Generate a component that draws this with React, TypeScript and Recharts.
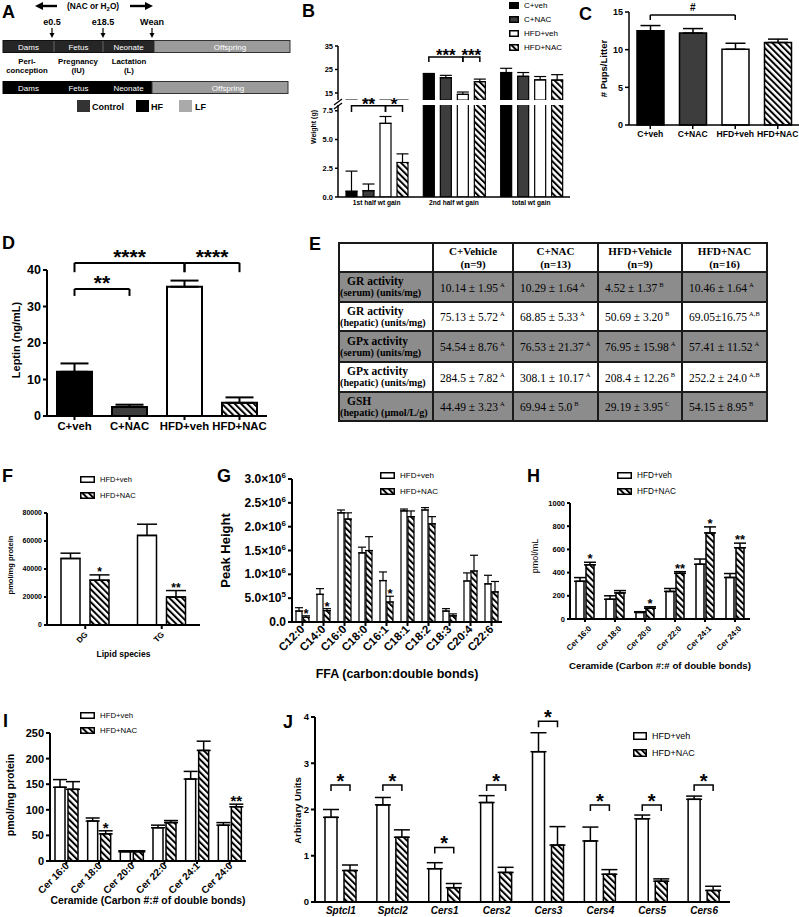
import React from 'react';
import { BarChart, Bar, XAxis, YAxis, ErrorBar, Cell, ReferenceLine } from 'recharts';

const SANS = '"Liberation Sans", Arial, Helvetica, sans-serif';
const SERIF = '"Liberation Serif", "Times New Roman", serif';

// ---------- data ----------
const GROUPS = ['C+veh', 'C+NAC', 'HFD+veh', 'HFD+NAC'];
const PAIR = ['HFD+veh', 'HFD+NAC'];

// B: dam weight gain (g)
const B_CATS = ['1st half wt gain', '2nd half wt gain', 'total wt gain'];
const B_CVEH = [0.5, 23.0, 23.7];
const B_CVEH_ERR = [1.75, 0.3, 1.8];
const B_CNAC = [0.55, 21.5, 22.1];
const B_CNAC_ERR = [0.58, 1.0, 1.6];
const B_HVEH = [6.4, 14.4, 20.6];
const B_HVEH_ERR = [0.6, 1.0, 1.4];
const B_HNAC = [3.0, 19.8, 20.5];
const B_HNAC_ERR = [0.75, 1.1, 2.3];

// C: pups per litter
const C_PUPS = [12.5, 12.2, 10.05, 10.95];
const C_ERR = [0.7, 0.6, 0.8, 0.45];

// D: leptin (ng/mL)
const D_LEPTIN = [12.1, 2.5, 35.4, 3.6];
const D_ERR = [2.3, 0.6, 1.7, 1.5];

// E: antioxidant table
const E_HEAD = ['C+Vehicle', 'C+NAC', 'HFD+Vehicle', 'HFD+NAC'];
const E_N = ['(n=9)', '(n=13)', '(n=9)', '(n=16)'];
const E_ROW = ['GR activity', 'GR activity', 'GPx activity', 'GPx activity', 'GSH'];
const E_UNIT = ['(serum) (units/mg)', '(hepatic) (units/mg)', '(serum) (units/mg)', '(hepatic) (units/mg)', '(hepatic) (\u00b5mol/L/g)'];
const E_MEAN = [
  ['10.14 \u00b1 1.95', '10.29 \u00b1 1.64', '4.52 \u00b1 1.37', '10.46 \u00b1 1.64'],
  ['75.13 \u00b1 5.72', '68.85 \u00b1 5.33', '50.69 \u00b1 3.20', '69.05\u00b116.75'],
  ['54.54 \u00b1 8.76', '76.53 \u00b1 21.37', '76.95 \u00b1 15.98', '57.41 \u00b1 11.52'],
  ['284.5 \u00b1 7.82', '308.1 \u00b1 10.17', '208.4 \u00b1 12.26', '252.2 \u00b1 24.0'],
  ['44.49 \u00b1 3.23', '69.94 \u00b1 5.0', '29.19 \u00b1 3.95', '54.15 \u00b1 8.95'],
];
const E_SUP = [
  ['A', 'A', 'B', 'A'],
  ['A', 'A', 'B', 'A,B'],
  ['A', 'A', 'A', 'A'],
  ['A', 'A', 'B', 'A,B'],
  ['A', 'B', 'C', 'B'],
];

// F: lipid species (pmol/mg protein)
const F_CATS = ['DG', 'TG'];
const F_VEH = [47500, 64000];
const F_VEH_ERR = [3800, 8000];
const F_NAC = [32000, 20000];
const F_NAC_ERR = [3800, 4600];
const F_STARS = ['*', '**'];

// G: free fatty acids (peak height)
const G_CATS = ['C12:0', 'C14:0', 'C16:0', 'C18:0', 'C16:1', 'C18:1', 'C18:2', 'C18:3', 'C20:4', 'C22:6'];
const G_VEH = [230000, 580000, 2290000, 1450000, 870000, 2330000, 2350000, 230000, 860000, 800000];
const G_VEH_ERR = [70000, 120000, 60000, 120000, 180000, 40000, 50000, 50000, 170000, 180000];
const G_NAC = [100000, 240000, 2160000, 1500000, 420000, 2210000, 2060000, 130000, 1070000, 630000];
const G_NAC_ERR = [30000, 40000, 130000, 290000, 120000, 120000, 150000, 40000, 330000, 220000];
const G_STARS = ['*', '*', '', '', '*', '', '', '', '', ''];

// H: serum ceramides (pmol/mL)
const CER_CATS = ['Cer 16:0', 'Cer 18:0', 'Cer 20:0', 'Cer 22:0', 'Cer 24:1', 'Cer 24:0'];
const H_VEH = [325, 170, 57, 238, 472, 358];
const H_VEH_ERR = [32, 30, 6, 25, 45, 34];
const H_NAC = [467, 225, 93, 394, 742, 614];
const H_NAC_ERR = [22, 20, 12, 14, 52, 40];
const H_STARS = ['*', '', '*', '**', '*', '**'];

// I: hepatic ceramides (pmol/mg protein)
const I_VEH = [144, 78, 18, 65, 160, 70];
const I_VEH_ERR = [15, 6, 2, 5, 15, 5];
const I_NAC = [140, 53, 18, 75, 216, 106];
const I_NAC_ERR = [15, 6, 2, 4, 18, 5];
const I_STARS = ['', '*', '', '', '', '**'];

// J: gene expression (arbitrary units)
const J_CATS = ['Sptcl1', 'Sptcl2', 'Cers1', 'Cers2', 'Cers3', 'Cers4', 'Cers5', 'Cers6'];
const J_VEH = [1.83, 2.1, 0.72, 2.15, 3.25, 1.32, 1.8, 2.22];
const J_VEH_ERR = [0.17, 0.16, 0.13, 0.15, 0.41, 0.3, 0.08, 0.07];
const J_NAC = [0.68, 1.4, 0.31, 0.64, 1.23, 0.6, 0.45, 0.25];
const J_NAC_ERR = [0.12, 0.16, 0.09, 0.11, 0.4, 0.1, 0.05, 0.09];
const J_SIG_LEVEL = [2.53, 2.53, 1.18, 2.53, 3.91, 2.1, 2.1, 2.53];

// ---------- helpers ----------
const HATCH = 'url(#hatch)';
const FILLS = ['#000', '#3d3d3d', '#fff', HATCH];
const AX = { stroke: '#000', strokeWidth: 1.5 };
const AX2 = { stroke: '#000', strokeWidth: 2 };

const at = (left: number, top: number): React.CSSProperties => ({ position: 'absolute', left, top });
const tickFont = (size: number) => ({ fontSize: size, fontWeight: 'bold', fill: '#000', fontFamily: SANS });

type CatSig = { from: string; to: string; level: number; drop: number; text: string };
type PairSig = { cat: number; from: number; to: number; level: number; drop: number; text: string };

const pairRows = (cats: string[], a: number[], ae: number[], b: number[], be: number[]) =>
  cats.map((name, i) => ({ name, a: a[i], ae: [0, ae[i]], b: b[i], be: [0, be[i]] }));

const boxOf = (p: any) => {
  const vb = p.viewBox && typeof p.viewBox.width === 'number' ? p.viewBox : p;
  return { x: Number(vb.x), y: Number(vb.y), w: Number(vb.width), h: Number(vb.height) };
};

function catBracket(b: CatSig, key: string, fontSize: number, textOffset: number, sw = 1.5) {
  const line = { stroke: '#000', strokeWidth: sw, ifOverflow: 'visible' as const };
  return [
    <ReferenceLine
      key={key + 'h'}
      segment={[{ x: b.from, y: b.level }, { x: b.to, y: b.level }]}
      {...line}
      label={{ value: b.text, position: 'top', offset: textOffset, fontSize, fontWeight: 'bold', fill: '#000' }}
    />,
    <ReferenceLine key={key + 'l'} segment={[{ x: b.from, y: b.level }, { x: b.from, y: b.drop }]} {...line} />,
    <ReferenceLine key={key + 'r'} segment={[{ x: b.to, y: b.level }, { x: b.to, y: b.drop }]} {...line} />,
  ];
}

// brackets between bars of one category, drawn from the anchor bar's geometry
function pairBrackets(list: PairSig[], anchor: number, anchorVals: number[], step: number, fontSize: number, textDy: number, base = 0) {
  return (p: any) => {
    const idx = p.index;
    const items = list.filter((b) => b.cat === idx);
    if (!items.length) return null;
    const { x, y, w, h } = boxOf(p);
    const k = h / (anchorVals[idx] - base);
    const y0 = y + h;
    const py = (v: number) => y0 - (v - base) * k;
    const cx = (s: number) => x + w / 2 + (s - anchor) * step;
    return (
      <g>
        {items.map((b, j) => {
          const x1 = cx(b.from);
          const x2 = cx(b.to);
          const yl = py(b.level);
          const yd = py(b.drop);
          return (
            <g key={j}>
              <path d={`M${x1},${yd}V${yl}H${x2}V${yd}`} fill="none" stroke="#000" strokeWidth={1.5} />
              <text x={(x1 + x2) / 2} y={yl + textDy} textAnchor="middle" fontSize={fontSize} fontWeight="bold" fill="#000" fontFamily={SANS}>
                {b.text}
              </text>
            </g>
          );
        })}
      </g>
    );
  };
}

// significance stars above a single bar's error bar
function starMarks(stars: string[], vals: number[], errs: number[], fontSize: number, dy: number) {
  return (p: any) => {
    const idx = p.index;
    const s = stars[idx];
    if (!s) return null;
    const { x, y, w, h } = boxOf(p);
    const k = h / vals[idx];
    const top = y - errs[idx] * k;
    return (
      <text x={x + w / 2} y={top + dy} textAnchor="middle" fontSize={fontSize} fontWeight="bold" fill="#000" fontFamily={SANS}>
        {s}
      </text>
    );
  };
}

const yTitle = (text: string, fontSize: number, dx: number, dy = 0, weight = 'bold') => (p: any) => {
  const vb = p.viewBox;
  const cx = vb.x + dx;
  const cy = vb.y + vb.height / 2 + dy;
  return (
    <text x={cx} y={cy} transform={`rotate(-90 ${cx} ${cy})`} textAnchor="middle" dominantBaseline="central" fontSize={fontSize} fontWeight={weight} fill="#000" fontFamily={SANS}>
      {text}
    </text>
  );
};

const xTitle = (text: string, fontSize: number, dy: number) => (p: any) => {
  const vb = p.viewBox;
  return (
    <text x={vb.x + vb.width / 2} y={vb.y + dy} textAnchor="middle" fontSize={fontSize} fontWeight="bold" fill="#000" fontFamily={SANS}>
      {text}
    </text>
  );
};

const slant = (fontSize: number, dx: number, dy: number) => (p: any) => (
  <g transform={`translate(${p.x + dx},${p.y + dy})`}>
    <text x={0} y={0} dy={fontSize * 0.35} textAnchor="end" transform="rotate(-45)" fontSize={fontSize} fontWeight="bold" fill="#000" fontFamily={SANS}>
      {p.payload.value}
    </text>
  </g>
);

const sciTick = (p: any) => {
  const v = p.payload.value as number;
  let body: React.ReactNode = '0.0';
  if (v > 0) {
    const e = Math.floor(Math.log10(v) + 1e-9);
    const m = (v / Math.pow(10, e)).toFixed(1);
    body = (
      <>
        {m}×10<tspan dy={-5} fontSize={8}>{e}</tspan>
      </>
    );
  }
  return (
    <text x={p.x} y={p.y} dy={4} textAnchor="end" fontSize={12} fontWeight="bold" fill="#000" fontFamily={SANS}>
      {body}
    </text>
  );
};

function Key({ left, top, labels, fills, fontSize, boxW, boxH, row }: { left: number; top: number; labels: string[]; fills: string[]; fontSize: number; boxW: number; boxH: number; row: number }) {
  return (
    <div style={{ position: 'absolute', left, top, fontFamily: SANS, fontSize, color: '#000' }}>
      {labels.map((l, i) => (
        <div key={l} style={{ display: 'flex', alignItems: 'center', height: row, whiteSpace: 'nowrap' }}>
          <svg width={boxW} height={boxH} style={{ marginRight: 5, display: 'block' }}>
            <rect x={0.75} y={0.75} width={boxW - 1.5} height={boxH - 1.5} fill={fills[i]} stroke="#000" strokeWidth={1.5} />
          </svg>
          <span>{l}</span>
        </div>
      ))}
    </div>
  );
}

// ---------- panels ----------
function PanelB() {
  const rows = B_CATS.map((name, i) => ({
    name,
    cv: B_CVEH[i], cve: [0, B_CVEH_ERR[i]],
    cn: B_CNAC[i], cne: [0, B_CNAC_ERR[i]],
    hv: B_HVEH[i], hve: [0, B_HVEH_ERR[i]],
    hn: B_HNAC[i], hne: [0, B_HNAC_ERR[i]],
  }));
  const series: [string, string][] = [['cv', 'cve'], ['cn', 'cne'], ['hv', 'hve'], ['hn', 'hne']];
  const sig: PairSig[] = [
    { cat: 0, from: 0, to: 2, level: 7.93, drop: 7.4, text: '**' },
    { cat: 0, from: 2, to: 3, level: 7.93, drop: 7.4, text: '*' },
    { cat: 1, from: 0, to: 2, level: 30.3, drop: 28.2, text: '***' },
    { cat: 1, from: 2, to: 3, level: 30.3, drop: 28.2, text: '***' },
  ];
  const step = 11 + 6;
  const lowLabel = pairBrackets(sig.filter((b) => b.cat === 0), 2, B_HVEH, step, 17, 4);
  const highLabel = pairBrackets(sig.filter((b) => b.cat === 1), 0, B_CVEH, step, 17, 4, 12);
  const bars = (anchor: number, label: any) =>
    series.map(([k, e], s) => (
      <Bar key={k} dataKey={k} fill={FILLS[s]} stroke="#000" strokeWidth={1.2} isAnimationActive={false} label={s === anchor ? label : undefined}>
        <ErrorBar dataKey={e} width={6} stroke="#000" strokeWidth={1.2} direction="y" />
      </Bar>
    ));
  return (
    <>
      <div style={at(290, 40)}>
        <BarChart width={290} height={62} data={rows} margin={{ top: 6, right: 10, bottom: 2, left: 0 }} barSize={11} barGap={6}>
          <XAxis dataKey="name" hide />
          <YAxis width={48} domain={[12, 35]} ticks={[15, 25, 35]} allowDataOverflow axisLine={AX} tickLine={AX} tickSize={3} tick={tickFont(7.5)} />
          {bars(0, highLabel)}
        </BarChart>
      </div>
      <div style={at(290, 85)}>
        <BarChart width={290} height={136} data={rows} margin={{ top: 20, right: 10, bottom: 2, left: 0 }} barSize={11} barGap={6}>
          <XAxis dataKey="name" height={22} interval={0} axisLine={AX} tickLine={false} tickSize={1} tick={tickFont(6.6)} />
          <YAxis
            width={48}
            domain={[0, 8]}
            ticks={[0, 2.5, 5, 7.5]}
            tickFormatter={(v: number) => v.toFixed(1)}
            allowDataOverflow
            axisLine={AX}
            tickLine={AX}
            tickSize={3}
            tick={tickFont(7.5)}
            label={yTitle('Weight (g)', 7, 23, -24)}
          />
          {bars(2, lowLabel)}
        </BarChart>
      </div>
      <Key left={509} top={-2} labels={GROUPS} fills={FILLS} fontSize={8} boxW={10} boxH={7} row={14} />
    </>
  );
}

function PanelC() {
  const rows = GROUPS.map((name, i) => ({ name, v: C_PUPS[i], e: [0, C_ERR[i]] }));
  const sig: CatSig[] = [{ from: 'C+veh', to: 'HFD+veh', level: 14.6, drop: 13.95, text: '#' }];
  return (
    <div style={at(569, 0)}>
      <BarChart width={230} height={155} data={rows} margin={{ top: 12, right: 0, bottom: 5, left: 0 }} barSize={27}>
        <XAxis dataKey="name" height={25} interval={0} axisLine={AX} tickLine={AX} tickSize={4} tick={tickFont(8.6)} />
        <YAxis width={60} domain={[0, 15]} ticks={[0, 5, 10, 15]} axisLine={AX} tickLine={AX} tickSize={4} tick={tickFont(9)} label={yTitle('# Pups/Litter', 9.5, 34)} />
        <Bar dataKey="v" stroke="#000" strokeWidth={1.5} isAnimationActive={false}>
          {rows.map((r, i) => (
            <Cell key={r.name} fill={FILLS[i]} />
          ))}
          <ErrorBar dataKey="e" width={10} stroke="#000" strokeWidth={1.5} direction="y" />
        </Bar>
        {sig.map((b, i) => catBracket(b, `c${i}`, 10, 4))}
      </BarChart>
    </div>
  );
}

function PanelD() {
  const rows = GROUPS.map((name, i) => ({ name, v: D_LEPTIN[i], e: [0, D_ERR[i]] }));
  const sig: CatSig[] = [
    { from: 'C+veh', to: 'C+NAC', level: 34.8, drop: 32.9, text: '**' },
    { from: 'C+veh', to: 'HFD+veh', level: 41.95, drop: 39.4, text: '****' },
    { from: 'HFD+veh', to: 'HFD+NAC', level: 41.95, drop: 39.4, text: '****' },
  ];
  return (
    <div style={at(0, 215)}>
      <BarChart width={270} height={231} data={rows} margin={{ top: 55, right: 3, bottom: 5, left: 0 }} barSize={35}>
        <XAxis dataKey="name" height={25} interval={0} axisLine={AX2} tickLine={AX2} tickSize={4} tick={tickFont(11.3)} />
        <YAxis width={47} domain={[0, 40]} ticks={[0, 10, 20, 30, 40]} axisLine={AX2} tickLine={AX2} tickSize={4} tick={tickFont(12.5)} label={yTitle('Leptin (ng/mL)', 11, 16, -3)} />
        <Bar dataKey="v" stroke="#000" strokeWidth={2} isAnimationActive={false}>
          {rows.map((r, i) => (
            <Cell key={r.name} fill={FILLS[i]} />
          ))}
          <ErrorBar dataKey="e" width={14} stroke="#000" strokeWidth={2} direction="y" />
        </Bar>
        {sig.map((b, i) => catBracket(b, `d${i}`, 21, -1, 2))}
      </BarChart>
    </div>
  );
}

function TableE() {
  const rowH = [29, 30, 29, 31, 30, 29];
  const colW = [94, 80, 85, 84, 85];
  const border = '2px solid #1a1a1a';
  const cell = (bg: string): React.CSSProperties => ({ border, background: bg, padding: 0, verticalAlign: 'middle' });
  return (
    <table style={{ position: 'absolute', left: 338, top: 242, width: 428, borderCollapse: 'collapse', tableLayout: 'fixed', fontFamily: SERIF, color: '#000' }}>
      <colgroup>
        {colW.map((w, i) => (
          <col key={i} style={{ width: w }} />
        ))}
      </colgroup>
      <tbody>
        <tr style={{ height: rowH[0] }}>
          <td style={cell('#fff')} />
          {E_HEAD.map((h, i) => (
            <td key={h} style={{ ...cell('#fff'), textAlign: 'center', fontWeight: 'bold', fontSize: 11, lineHeight: '13px' }}>
              {h}
              <br />
              {E_N[i]}
            </td>
          ))}
        </tr>
        {E_ROW.map((t, r) => {
          const bg = r % 2 === 0 ? '#8c8c8c' : '#fff';
          return (
            <tr key={r} style={{ height: rowH[r + 1] }}>
              <td style={{ ...cell(bg), fontWeight: 'bold', lineHeight: '12px', whiteSpace: 'nowrap' }}>
                <div style={{ fontSize: 11.5, paddingLeft: 7 }}>{t}</div>
                <div style={{ fontSize: 10.2 }}>{E_UNIT[r]}</div>
              </td>
              {E_MEAN[r].map((m, c) => (
                <td key={c} style={{ ...cell(bg), fontSize: 11.5, paddingLeft: 6, whiteSpace: 'nowrap' }}>
                  {m}
                  <sup style={{ fontSize: 6.5, marginLeft: 2 }}>{E_SUP[r][c]}</sup>
                </td>
              ))}
            </tr>
          );
        })}
      </tbody>
    </table>
  );
}

function PanelF() {
  const rows = pairRows(F_CATS, F_VEH, F_VEH_ERR, F_NAC, F_NAC_ERR);
  return (
    <>
      <div style={at(0, 500)}>
        <BarChart width={205} height={175} data={rows} margin={{ top: 13, right: 5, bottom: 5, left: 0 }} barSize={19} barGap={10}>
          <XAxis dataKey="name" height={45} interval={0} axisLine={AX2} tickLine={AX2} tickSize={4} tick={slant(8, 1, 2)} label={xTitle('Lipid species', 8.5, 32)} />
          <YAxis width={47} domain={[0, 80000]} ticks={[0, 20000, 40000, 60000, 80000]} axisLine={AX2} tickLine={AX2} tickSize={3} tick={tickFont(7)} label={yTitle('pmol/mg protein', 7.5, 10, -4)} />
          <Bar dataKey="a" fill="#fff" stroke="#000" strokeWidth={1.5} isAnimationActive={false}>
            <ErrorBar dataKey="ae" width={10} stroke="#000" strokeWidth={1.5} direction="y" />
          </Bar>
          <Bar dataKey="b" fill={HATCH} stroke="#000" strokeWidth={1.5} isAnimationActive={false} label={starMarks(F_STARS, F_NAC, F_NAC_ERR, 12, 1)}>
            <ErrorBar dataKey="be" width={10} stroke="#000" strokeWidth={1.5} direction="y" />
          </Bar>
        </BarChart>
      </div>
      <Key left={80} top={471} labels={PAIR} fills={['#fff', HATCH]} fontSize={7.5} boxW={15} boxH={7} row={16} />
    </>
  );
}

function PanelG() {
  const rows = pairRows(G_CATS, G_VEH, G_VEH_ERR, G_NAC, G_NAC_ERR);
  return (
    <>
      <div style={at(210, 470)}>
        <BarChart width={300} height={217} data={rows} margin={{ top: 9, right: 8, bottom: 5, left: 0 }} barSize={6} barGap={1}>
          <XAxis dataKey="name" height={60} interval={0} axisLine={AX2} tickLine={AX2} tickSize={4} tick={slant(11.5, 0, -1)} label={xTitle('FFA (carbon:double bonds)', 12.5, 56)} />
          <YAxis
            width={82}
            domain={[0, 3000000]}
            ticks={[0, 500000, 1000000, 1500000, 2000000, 2500000, 3000000]}
            axisLine={AX2}
            tickLine={AX2}
            tickSize={4}
            tick={sciTick}
            label={yTitle('Peak Height', 13, 15)}
          />
          <Bar dataKey="a" fill="#fff" stroke="#000" strokeWidth={1.2} isAnimationActive={false}>
            <ErrorBar dataKey="ae" width={4} stroke="#000" strokeWidth={1.2} direction="y" />
          </Bar>
          <Bar dataKey="b" fill={HATCH} stroke="#000" strokeWidth={1.2} isAnimationActive={false} label={starMarks(G_STARS, G_NAC, G_NAC_ERR, 13, 2)}>
            <ErrorBar dataKey="be" width={4} stroke="#000" strokeWidth={1.2} direction="y" />
          </Bar>
        </BarChart>
      </div>
      <Key left={380} top={467} labels={PAIR} fills={['#fff', HATCH]} fontSize={8} boxW={15} boxH={7} row={16} />
    </>
  );
}

function PanelH() {
  const rows = pairRows(CER_CATS, H_VEH, H_VEH_ERR, H_NAC, H_NAC_ERR);
  return (
    <>
      <div style={at(520, 490)}>
        <BarChart width={240} height={186} data={rows} margin={{ top: 13, right: 10, bottom: 5, left: 0 }} barSize={8} barGap={2}>
          <XAxis dataKey="name" height={52} interval={0} axisLine={AX2} tickLine={AX2} tickSize={3} tick={slant(8, 5, 3)} label={xTitle('Ceramide (Carbon #:# of double bonds)', 9.7, 50)} />
          <YAxis width={50} domain={[0, 1000]} ticks={[0, 200, 400, 600, 800, 1000]} axisLine={AX2} tickLine={AX2} tickSize={3} tick={tickFont(7.5)} label={yTitle('pmol/mL', 9, 15, -5, 'normal')} />
          <Bar dataKey="a" fill="#fff" stroke="#000" strokeWidth={1.5} isAnimationActive={false}>
            <ErrorBar dataKey="ae" width={6} stroke="#000" strokeWidth={1.5} direction="y" />
          </Bar>
          <Bar dataKey="b" fill={HATCH} stroke="#000" strokeWidth={1.5} isAnimationActive={false} label={starMarks(H_STARS, H_NAC, H_NAC_ERR, 13, 1)}>
            <ErrorBar dataKey="be" width={6} stroke="#000" strokeWidth={1.5} direction="y" />
          </Bar>
        </BarChart>
      </div>
      <Key left={617} top={467} labels={PAIR} fills={['#fff', HATCH]} fontSize={8.2} boxW={15} boxH={7} row={16} />
    </>
  );
}

function PanelI() {
  const rows = pairRows(CER_CATS, I_VEH, I_VEH_ERR, I_NAC, I_NAC_ERR);
  return (
    <>
      <div style={at(0, 720)}>
        <BarChart width={250} height={191} data={rows} margin={{ top: 13, right: 4, bottom: 4, left: 0 }} barSize={10} barGap={3}>
          <XAxis dataKey="name" height={46} interval={0} axisLine={AX2} tickLine={AX2} tickSize={3} tick={slant(10, 1, -2)} label={xTitle('Ceramide (Carbon #:# of double bonds)', 10.4, 43)} />
          <YAxis width={50} domain={[0, 250]} ticks={[0, 50, 100, 150, 200, 250]} axisLine={AX2} tickLine={AX2} tickSize={4} tick={tickFont(11)} label={yTitle('pmol/mg protein', 10.5, 10, -2)} />
          <Bar dataKey="a" fill="#fff" stroke="#000" strokeWidth={1.5} isAnimationActive={false}>
            <ErrorBar dataKey="ae" width={7} stroke="#000" strokeWidth={1.5} direction="y" />
          </Bar>
          <Bar dataKey="b" fill={HATCH} stroke="#000" strokeWidth={1.5} isAnimationActive={false} label={starMarks(I_STARS, I_NAC, I_NAC_ERR, 15, 2)}>
            <ErrorBar dataKey="be" width={7} stroke="#000" strokeWidth={1.5} direction="y" />
          </Bar>
        </BarChart>
      </div>
      <Key left={80} top={708} labels={PAIR} fills={['#fff', HATCH]} fontSize={7.8} boxW={15} boxH={7} row={15} />
    </>
  );
}

function PanelJ() {
  const rows = pairRows(J_CATS, J_VEH, J_VEH_ERR, J_NAC, J_NAC_ERR);
  const sig: PairSig[] = J_SIG_LEVEL.map((level, cat) => ({ cat, from: 0, to: 1, level, drop: level - 0.13, text: '*' }));
  return (
    <>
      <div style={at(265, 700)}>
        <BarChart width={470} height={217} data={rows} margin={{ top: 17, right: 5, bottom: 0, left: 0 }} barSize={12} barGap={7}>
          <XAxis dataKey="name" height={15} interval={0} axisLine={AX2} tickLine={false} tickSize={3} tick={{ ...tickFont(10), fontStyle: 'italic' }} />
          <YAxis width={50} domain={[0, 4]} ticks={[0, 1, 2, 3, 4]} axisLine={AX2} tickLine={AX2} tickSize={4} tick={tickFont(9.5)} label={yTitle('Arbitrary Units', 9.5, 32, 1)} />
          <Bar dataKey="a" fill="#fff" stroke="#000" strokeWidth={1.5} isAnimationActive={false} label={pairBrackets(sig, 0, J_VEH, 12 + 7, 20, 3)}>
            <ErrorBar dataKey="ae" width={8} stroke="#000" strokeWidth={1.5} direction="y" />
          </Bar>
          <Bar dataKey="b" fill={HATCH} stroke="#000" strokeWidth={1.5} isAnimationActive={false}>
            <ErrorBar dataKey="be" width={8} stroke="#000" strokeWidth={1.5} direction="y" />
          </Bar>
        </BarChart>
      </div>
      <Key left={633} top={727} labels={PAIR} fills={['#fff', HATCH]} fontSize={9} boxW={14} boxH={8} row={17} />
    </>
  );
}

// schematic (panel A), panel letters and the axis break of B
function Overlay() {
  const cells1: [string, number, number][] = [['Dams', 3, 51], ['Fetus', 54, 49], ['Neonate', 103, 51]];
  const marks: [string, number][] = [['e0.5', 52], ['e18.5', 103], ['Wean', 152]];
  const stages: [string, string, number][] = [['Peri-', 'conception', 27], ['Pregnancy', '(IU)', 78], ['Lactation', '(L)', 129]];
  const letters: [string, number, number][] = [
    ['A', 2, 18], ['B', 302, 17], ['C', 579, 20], ['D', 2, 249], ['E', 309, 250],
    ['F', 2, 482], ['G', 217, 482], ['H', 527, 482], ['I', 3, 727], ['J', 283, 728],
  ];
  return (
    <svg width={799} height={917} style={{ position: 'absolute', left: 0, top: 0, pointerEvents: 'none' }} fontFamily={SANS}>
      {letters.map(([t, x, y]) => (
        <text key={t} x={x} y={y} fontSize={18} fontWeight="bold" fill="#000">
          {t}
        </text>
      ))}
      {/* treatment window */}
      <line x1={57} y1={6} x2={41} y2={6} stroke="#000" strokeWidth={2.4} />
      <polygon points="35,6 43,2 43,10" fill="#000" />
      <text x={93} y={9} textAnchor="middle" fontSize={8.3} fontWeight="bold">
        (NAC or H<tspan fontSize={6} dy={2}>2</tspan>
        <tspan dy={-2}>O)</tspan>
      </text>
      <line x1={130} y1={6} x2={147} y2={6} stroke="#000" strokeWidth={2.4} />
      <polygon points="153,6 145,2 145,10" fill="#000" />
      {marks.map(([t, x]) => (
        <g key={t}>
          <text x={x} y={25} textAnchor="middle" fontSize={9} fontWeight="bold">
            {t}
          </text>
          <line x1={x} y1={28} x2={x} y2={34} stroke="#000" strokeWidth={1.2} />
          <polygon points={`${x - 2.5},33 ${x + 2.5},33 ${x},38`} fill="#000" />
        </g>
      ))}
      {/* control timeline */}
      <rect x={3} y={40.5} width={151} height={12} fill="#262626" stroke="#111" />
      {cells1.map(([t, x, w], i) => (
        <g key={t}>
          {i > 0 && <line x1={x} y1={41} x2={x} y2={52} stroke="#777" strokeWidth={0.8} />}
          <text x={x + w / 2} y={50} textAnchor="middle" fontSize={8} fill="#fff">
            {t}
          </text>
        </g>
      ))}
      <rect x={154} y={40.5} width={136} height={12} fill="#9b9b9b" stroke="#333" />
      <text x={230} y={50} textAnchor="middle" fontSize={8} fill="#fff">
        Offspring
      </text>
      {stages.map(([a, b, x]) => (
        <g key={a}>
          <text x={x} y={64} textAnchor="middle" fontSize={7.8} fontWeight="bold">
            {a}
          </text>
          <text x={x} y={73} textAnchor="middle" fontSize={7.8} fontWeight="bold">
            {b}
          </text>
        </g>
      ))}
      {/* diet timeline */}
      <rect x={3} y={81.5} width={149} height={12} fill="#000" stroke="#000" />
      {cells1.map(([t, x, w]) => (
        <text key={t} x={x + w / 2} y={91} textAnchor="middle" fontSize={8} fill="#fff">
          {t}
        </text>
      ))}
      <rect x={152} y={81.5} width={136} height={12} fill="#9b9b9b" stroke="#333" />
      <text x={228} y={91} textAnchor="middle" fontSize={8} fill="#fff">
        Offspring
      </text>
      {/* diet key */}
      <rect x={77} y={100} width={13} height={12} fill="#333" />
      <text x={92} y={110} fontSize={9} fontWeight="bold">Control</text>
      <rect x={136} y={100} width={13} height={12} fill="#000" />
      <text x={151} y={110} fontSize={9} fontWeight="bold">HF</text>
      <rect x={179} y={100} width={13} height={12} fill="#aaa" />
      <text x={195} y={110} fontSize={9} fontWeight="bold">LF</text>
      {/* axis break in B */}
      <line x1={334} y1={105} x2={342} y2={99} stroke="#000" strokeWidth={1.3} />
      <line x1={334} y1={109} x2={342} y2={103} stroke="#000" strokeWidth={1.3} />
    </svg>
  );
}

export default function App() {
  return (
    <div style={{ position: 'absolute', left: 0, top: 0, width: 799, height: 917, background: '#fff', fontFamily: SANS, overflow: 'hidden' }}>
      <svg width={0} height={0} style={{ position: 'absolute' }}>
        <defs>
          <pattern id="hatch" patternUnits="userSpaceOnUse" width={4.5} height={4.5} patternTransform="rotate(-45)">
            <rect width={4.5} height={4.5} fill="#fff" />
            <rect width={2} height={4.5} fill="#000" />
          </pattern>
        </defs>
      </svg>
      <PanelB />
      <PanelC />
      <PanelD />
      <TableE />
      <PanelF />
      <PanelG />
      <PanelH />
      <PanelI />
      <PanelJ />
      <Overlay />
    </div>
  );
}
